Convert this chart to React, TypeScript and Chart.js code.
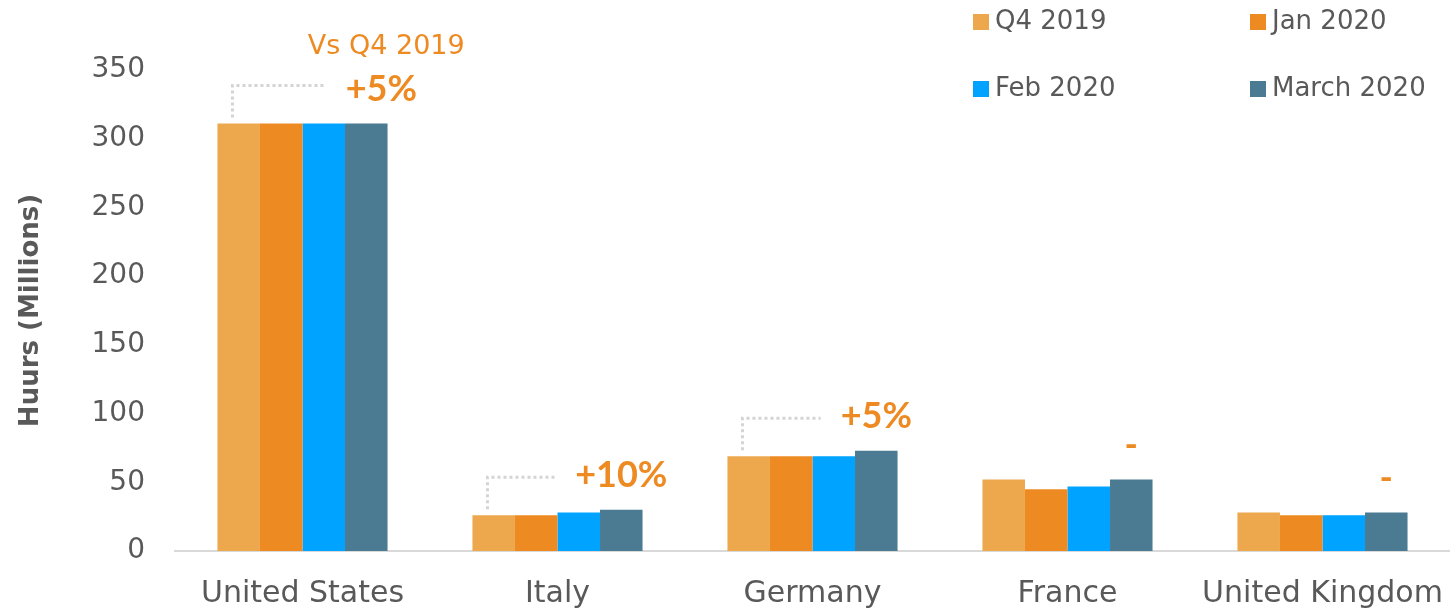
import React, { useEffect, useRef } from 'react';
import { Chart, registerables } from 'chart.js';

Chart.register(...registerables);

const categories = ['United States', 'Italy', 'Germany', 'France', 'United Kingdom'];
const seriesLabels = ['Q4 2019', 'Jan 2020', 'Feb 2020', 'March 2020'];
const q4_2019 = [311, 26, 69, 52, 28];
const jan_2020 = [311, 26, 69, 45, 26];
const feb_2020 = [311, 28, 69, 47, 26];
const march_2020 = [311, 30, 73, 52, 28];
const changeLabels = ['+5%', '+10%', '+5%', '-', '-'];
const comparisonNote = 'Vs Q4 2019';
const yTitle = 'Huurs (Millions)';
const yMin = 0;
const yMax = 350;
const yStep = 50;

const seriesColors = ['#EDA84E', '#EE8A22', '#00A3FF', '#4A7B93'];
const TEXT = '#595959';
const ORANGE = '#EE8A22';

const seriesValues = [q4_2019, jan_2020, feb_2020, march_2020];

const legendPlugin = {
  id: 'gridLegend',
  afterDraw(chart: any) {
    const ctx = chart.ctx;
    ctx.save();
    ctx.font = '26px "DejaVu Sans"';
    ctx.textBaseline = 'middle';
    ctx.textAlign = 'left';
    chart.data.datasets.forEach((ds: any, i: number) => {
      const col = i % 2;
      const row = Math.floor(i / 2);
      const x = 973 + col * 277;
      const y = 22 + row * 67;
      ctx.fillStyle = ds.backgroundColor;
      ctx.fillRect(x, y - 8, 16, 16);
      ctx.fillStyle = TEXT;
      ctx.fillText(ds.label, x + 22, y);
    });
    ctx.restore();
  },
};

const annotationPlugin = {
  id: 'changeAnnotations',
  afterDatasetsDraw(chart: any) {
    const ctx = chart.ctx;
    const first = chart.getDatasetMeta(0);
    const last = chart.getDatasetMeta(chart.data.datasets.length - 1);
    ctx.save();
    changeLabels.forEach((label, i) => {
      const lastBar = last.data[i];
      const firstBar = first.data[i];
      if (!lastBar || !firstBar) return;
      const cx = lastBar.x + (i === 0 ? 15 : 0);
      const cy = lastBar.y - 34;
      ctx.font = 'bold 36px Lato';
      ctx.fillStyle = ORANGE;
      ctx.textAlign = 'center';
      ctx.textBaseline = 'middle';
      ctx.fillText(label, cx, cy);
      if (label !== '-') {
        const w = ctx.measureText(label).width;
        const lx = firstBar.x - firstBar.width / 2 + 15;
        const hy = firstBar.y - 38;
        ctx.strokeStyle = '#d4d4d4';
        ctx.lineWidth = 3;
        ctx.setLineDash([3, 3]);
        ctx.beginPath();
        ctx.moveTo(lx, firstBar.y - 6);
        ctx.lineTo(lx, hy);
        ctx.lineTo(cx - w / 2 - 20, hy);
        ctx.stroke();
        ctx.setLineDash([]);
      }
      if (i === 0) {
        ctx.font = '27px "DejaVu Sans"';
        ctx.fillStyle = ORANGE;
        ctx.fillText(comparisonNote, cx + 5, cy - 43);
      }
    });
    ctx.restore();
  },
};

export default function App() {
  const canvasRef = useRef<HTMLCanvasElement | null>(null);

  useEffect(() => {
    if (!canvasRef.current) return;
    const chart = new Chart(canvasRef.current, {
      type: 'bar',
      data: {
        labels: categories,
        datasets: seriesLabels.map((label, i) => ({
          label,
          data: seriesValues[i],
          backgroundColor: seriesColors[i],
          borderWidth: 0,
          categoryPercentage: 0.667,
          barPercentage: 1,
        })),
      },
      options: {
        responsive: false,
        animation: false,
        layout: { padding: { top: 70, right: 0, bottom: 0, left: 0 } },
        plugins: {
          legend: { display: false },
          tooltip: { enabled: false },
        },
        scales: {
          x: {
            grid: { display: false, drawTicks: false },
            border: { display: true, color: '#d9d9d9', width: 2 },
            ticks: {
              color: TEXT,
              font: { family: 'DejaVu Sans', size: 30 },
              padding: 25,
              autoSkip: false,
              maxRotation: 0,
              minRotation: 0,
            },
            afterFit: (scale: any) => {
              scale.height = 58;
              scale.paddingLeft = 0;
              scale.paddingRight = 0;
            },
          },
          y: {
            min: yMin,
            max: yMax,
            grid: { display: false, drawTicks: false },
            border: { display: false },
            ticks: {
              stepSize: yStep,
              color: TEXT,
              font: { family: 'DejaVu Sans', size: 28 },
              padding: 30,
            },
            title: {
              display: true,
              text: yTitle,
              color: TEXT,
              font: { family: 'DejaVu Sans', size: 26, weight: 'bold' },
              padding: { top: 16, bottom: 0 },
            },
            afterFit: (scale: any) => {
              scale.width = 175;
              scale.paddingTop = 0;
              scale.paddingBottom = 0;
            },
          },
        },
      },
      plugins: [annotationPlugin, legendPlugin],
    });
    return () => chart.destroy();
  }, []);

  return (
    <div style={{ position: 'absolute', left: 0, top: 0, width: 1450, height: 609, background: '#fff' }}>
      <canvas ref={canvasRef} width={1450} height={609} />
    </div>
  );
}
